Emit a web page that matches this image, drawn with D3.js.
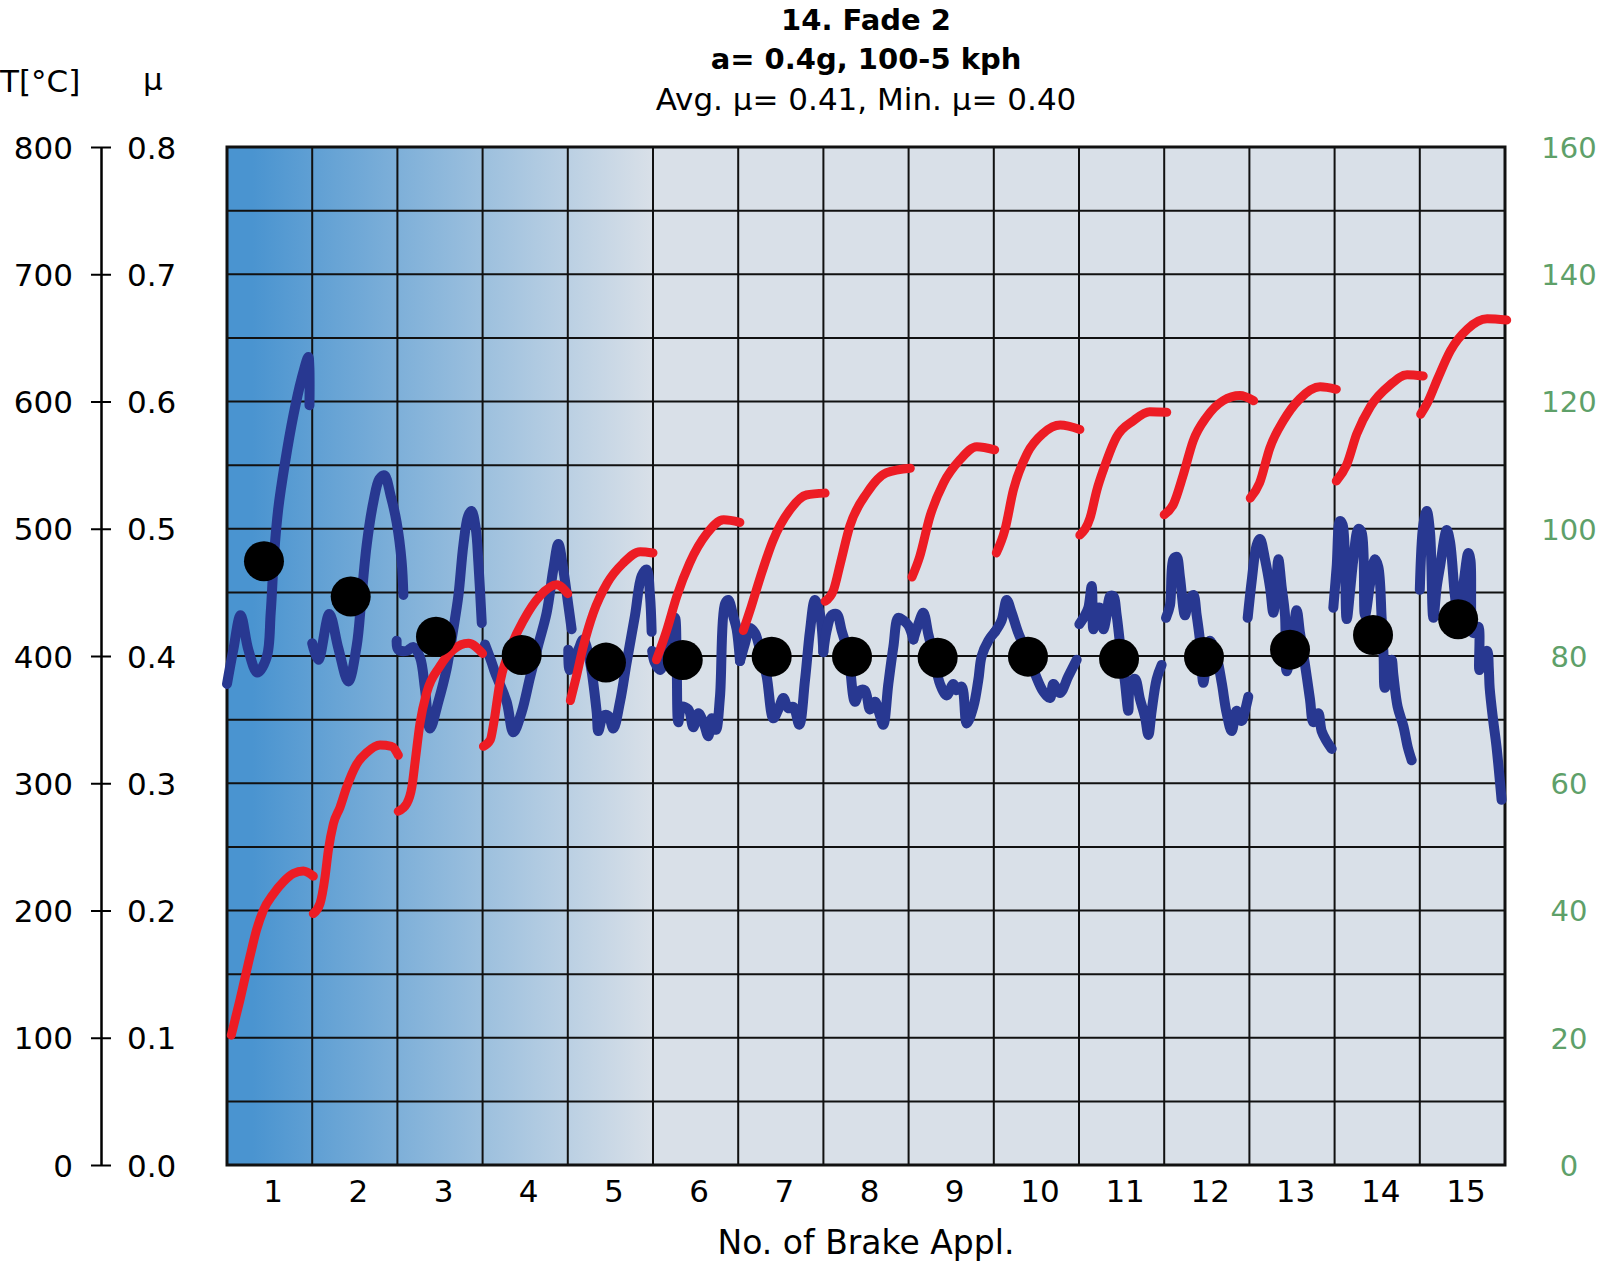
<!DOCTYPE html>
<html><head><meta charset="utf-8">
<script src="https://cdn.jsdelivr.net/npm/d3@7"></script>
<style>
body{margin:0;background:#fff}
svg{display:block}
text{font-family:"DejaVu Sans",sans-serif}
</style>
</head><body>
<svg id="chart" width="1600" height="1265"></svg>
<script>
// ---------- data ----------
const titleLines = ["14. Fade 2", "a= 0.4g, 100-5 kph", "Avg. \u03bc= 0.41, Min. \u03bc= 0.40"];
const appLabels = ["1","2","3","4","5","6","7","8","9","10","11","12","13","14","15"];
const tempTicks = [0,100,200,300,400,500,600,700,800];
const muTicks = [0,0.1,0.2,0.3,0.4,0.5,0.6,0.7,0.8];
const speedTicks = [0,20,40,60,80,100,120,140,160];

// friction coefficient trace per brake application: [application position, mu]
const muTraces = [
 [[0.0,0.378],[0.074,0.405],[0.16,0.432],[0.25,0.405],[0.356,0.387],[0.466,0.399],[0.513,0.434],[0.552,0.479],[0.602,0.516],[0.681,0.552],[0.779,0.589],[0.876,0.618],[0.955,0.635],[0.966,0.628],[0.968,0.597]],
 [[1.0,0.41],[1.072,0.397],[1.201,0.433],[1.307,0.406],[1.424,0.38],[1.522,0.408],[1.581,0.448],[1.639,0.487],[1.718,0.521],[1.788,0.539],[1.847,0.542],[1.921,0.526],[1.991,0.505],[2.05,0.474],[2.07,0.448]],
 [[1.991,0.412],[2.01,0.405],[2.109,0.404],[2.187,0.407],[2.265,0.399],[2.324,0.374],[2.383,0.343],[2.48,0.364],[2.578,0.39],[2.656,0.421],[2.715,0.447],[2.774,0.487],[2.83,0.51],[2.87,0.514],[2.92,0.5],[2.95,0.474],[2.99,0.426]],
 [[3.028,0.409],[3.106,0.395],[3.146,0.387],[3.282,0.364],[3.361,0.34],[3.459,0.356],[3.556,0.383],[3.654,0.409],[3.752,0.434],[3.83,0.468],[3.889,0.488],[3.947,0.468],[4.006,0.44],[4.045,0.421]],
 [[4.006,0.405],[4.022,0.389],[4.124,0.405],[4.182,0.413],[4.261,0.395],[4.339,0.356],[4.358,0.341],[4.417,0.353],[4.476,0.353],[4.534,0.343],[4.613,0.364],[4.691,0.395],[4.789,0.432],[4.867,0.463],[4.926,0.468],[4.965,0.447],[4.984,0.419]],
 [[4.99,0.404],[5.02,0.395],[5.082,0.389],[5.141,0.398],[5.2,0.413],[5.258,0.43],[5.278,0.395],[5.297,0.348],[5.336,0.36],[5.415,0.358],[5.473,0.344],[5.532,0.355],[5.591,0.348],[5.649,0.337],[5.689,0.351],[5.739,0.342],[5.786,0.368],[5.845,0.441],[5.884,0.444],[5.943,0.431],[5.982,0.421],[6.021,0.396]],
 [[6.021,0.396],[6.08,0.41],[6.138,0.422],[6.197,0.418],[6.256,0.405],[6.334,0.384],[6.412,0.351],[6.471,0.358],[6.53,0.367],[6.588,0.359],[6.647,0.36],[6.717,0.346],[6.784,0.381],[6.843,0.42],[6.901,0.444],[6.96,0.433],[6.999,0.403]],
 [[6.999,0.403],[7.038,0.42],[7.097,0.432],[7.156,0.433],[7.214,0.42],[7.293,0.401],[7.371,0.364],[7.43,0.373],[7.488,0.373],[7.547,0.358],[7.606,0.364],[7.656,0.355],[7.703,0.346],[7.762,0.378],[7.821,0.407],[7.879,0.43],[7.938,0.428],[7.997,0.424],[8.056,0.413]],
 [[8.056,0.413],[8.114,0.425],[8.173,0.434],[8.232,0.417],[8.29,0.401],[8.369,0.378],[8.447,0.369],[8.525,0.378],[8.564,0.373],[8.623,0.376],[8.682,0.347],[8.76,0.36],[8.818,0.381],[8.858,0.4],[8.936,0.412],[9.014,0.419]],
 [[9.014,0.419],[9.092,0.428],[9.151,0.444],[9.21,0.434],[9.288,0.418],[9.386,0.403],[9.484,0.386],[9.581,0.372],[9.66,0.367],[9.699,0.378],[9.777,0.371],[9.875,0.384],[9.973,0.397]],
 [[10.004,0.425],[10.07,0.432],[10.11,0.438],[10.149,0.455],[10.168,0.421],[10.207,0.436],[10.246,0.438],[10.286,0.421],[10.325,0.432],[10.364,0.447],[10.403,0.447],[10.442,0.432],[10.481,0.41],[10.54,0.379],[10.579,0.357],[10.599,0.377],[10.657,0.382],[10.716,0.366],[10.775,0.352],[10.814,0.338],[10.853,0.357],[10.912,0.382],[10.97,0.393]],
 [[11.021,0.43],[11.068,0.44],[11.107,0.476],[11.146,0.478],[11.185,0.462],[11.244,0.432],[11.283,0.443],[11.342,0.448],[11.381,0.432],[11.42,0.412],[11.459,0.379],[11.498,0.399],[11.538,0.412],[11.616,0.399],[11.675,0.379],[11.733,0.355],[11.792,0.341],[11.85,0.357],[11.909,0.349],[11.948,0.357],[11.987,0.368]],
 [[11.98,0.43],[12.027,0.459],[12.085,0.487],[12.124,0.492],[12.183,0.476],[12.242,0.454],[12.281,0.434],[12.32,0.462],[12.34,0.476],[12.379,0.454],[12.418,0.432],[12.437,0.388],[12.496,0.407],[12.555,0.436],[12.594,0.418],[12.653,0.393],[12.711,0.366],[12.75,0.348],[12.809,0.355],[12.848,0.341],[12.907,0.333],[12.966,0.327]],
 [[12.985,0.438],[13.024,0.47],[13.063,0.506],[13.095,0.503],[13.142,0.429],[13.181,0.451],[13.22,0.476],[13.279,0.5],[13.318,0.497],[13.357,0.432],[13.415,0.456],[13.474,0.476],[13.513,0.47],[13.552,0.43],[13.575,0.4],[13.59,0.375],[13.62,0.38],[13.67,0.397],[13.69,0.385],[13.74,0.36],[13.807,0.345],[13.86,0.328],[13.905,0.318]],
 [[14.0,0.452],[14.041,0.503],[14.081,0.514],[14.12,0.497],[14.159,0.43],[14.198,0.454],[14.237,0.47],[14.316,0.499],[14.354,0.49],[14.413,0.447],[14.452,0.43],[14.511,0.456],[14.57,0.481],[14.595,0.475],[14.628,0.418],[14.687,0.423],[14.7,0.389],[14.746,0.401],[14.79,0.404],[14.81,0.39],[14.82,0.375],[14.86,0.35],[14.9,0.329],[14.96,0.287]]
];

// temperature trace per brake application: [application position, T in °C]
const tempTraces = [
 [[0.05,102],[0.153,130],[0.27,164],[0.348,185],[0.426,200],[0.544,213],[0.661,222.5],[0.779,229],[0.896,231],[1.013,227]],
 [[1.013,197.6],[1.092,205.5],[1.15,226],[1.189,247],[1.248,268],[1.326,281],[1.405,297],[1.522,315],[1.639,324],[1.796,330],[1.93,329],[2.011,322]],
 [[2.01,278],[2.11,284],[2.17,297],[2.21,318],[2.265,347],[2.343,371],[2.5,392],[2.657,405],[2.833,410],[3.0,402]],
 [[3.01,329],[3.09,334],[3.13,347],[3.2,378],[3.32,405],[3.48,428],[3.67,447],[3.87,456],[4.0,449]],
 [[4.03,365],[4.09,381],[4.18,407],[4.3,434],[4.46,457],[4.65,473],[4.85,482],[5.0,481]],
 [[5.04,397],[5.16,420],[5.28,447],[5.43,473],[5.63,496],[5.83,507],[6.02,505]],
 [[6.06,420],[6.14,436],[6.26,462],[6.41,491],[6.61,515],[6.8,526.5],[7.02,528]],
 [[7.02,443],[7.12,452],[7.2,473],[7.31,502],[7.51,528],[7.74,544],[8.02,547.5]],
 [[8.04,462],[8.13,478],[8.25,509.5],[8.41,536],[8.6,554],[8.8,564.5],[9.01,562]],
 [[9.03,481],[9.13,499],[9.23,530.5],[9.39,559],[9.58,575],[9.78,581.5],[10.01,578]],
 [[10.01,495],[10.13,508.5],[10.21,530.5],[10.29,547],[10.44,572],[10.64,585],[10.83,592],[11.03,591.5]],
 [[11.0,511],[11.11,519.5],[11.22,541.5],[11.34,569],[11.5,588],[11.69,600.6],[11.89,604.7],[12.05,600.6]],
 [[12.01,524],[12.12,536],[12.24,563.5],[12.4,585],[12.59,602],[12.83,611.5],[13.02,609.6]],
 [[13.02,537.5],[13.14,550],[13.26,574.5],[13.42,596],[13.65,613],[13.85,621],[14.04,620]],
 [[14.01,590],[14.09,599],[14.21,618],[14.36,640],[14.56,657],[14.79,665],[15.02,664]]
];

// average mu per application and where it is marked
const avgMuX = [0.434,1.452,2.453,3.459,4.448,5.349,6.393,7.336,8.341,9.401,10.47,11.467,12.477,13.451,14.45];
const avgMu  = [0.4745,0.4467,0.4152,0.4008,0.3948,0.3969,0.3995,0.3995,0.3987,0.3995,0.3978,0.3992,0.405,0.4165,0.4289];

// ---------- layout ----------
const L = 227, R = 1505, T = 147, B = 1165;
const svg = d3.select("#chart");

const x = d3.scaleLinear().domain([0, 15]).range([L, R]);
const yMu = d3.scaleLinear().domain([0, 0.8]).range([B, T]);
const yT = d3.scaleLinear().domain([0, 800]).range([B, T]);
const ySp = d3.scaleLinear().domain([0, 160]).range([B, T]);

// background gradient
const defs = svg.append("defs");
const grad = defs.append("linearGradient").attr("id","bg")
  .attr("gradientUnits","userSpaceOnUse")
  .attr("x1", x(0.3)).attr("x2", x(5)).attr("y1",0).attr("y2",0);
grad.append("stop").attr("offset","0%").attr("stop-color","#4a94d0");
grad.append("stop").attr("offset","100%").attr("stop-color","#d9e0e8");

svg.append("rect").attr("x",L).attr("y",T).attr("width",R-L).attr("height",B-T)
  .attr("fill","url(#bg)");

// grid
const grid = svg.append("g").attr("stroke","#111").attr("stroke-width",2);
grid.selectAll("line.h").data(d3.range(0,17).map(i=>i*0.05)).join("line")
  .attr("x1",L).attr("x2",R).attr("y1",d=>yMu(d)).attr("y2",d=>yMu(d));
grid.selectAll("line.v").data(d3.range(0,16)).join("line")
  .attr("y1",T).attr("y2",B).attr("x1",d=>x(d)).attr("x2",d=>x(d));
svg.append("rect").attr("x",L).attr("y",T).attr("width",R-L).attr("height",B-T)
  .attr("fill","none").attr("stroke","#111").attr("stroke-width",3);

// lines
const muLine = d3.line().x(d=>x(d[0])).y(d=>yMu(d[1])).curve(d3.curveCatmullRom.alpha(0.5));
const tLine = d3.line().x(d=>x(d[0])).y(d=>yT(d[1])).curve(d3.curveMonotoneX);

svg.append("g").selectAll("path").data(muTraces).join("path")
  .attr("d", muLine).attr("fill","none").attr("stroke","#283891")
  .attr("stroke-width",10).attr("stroke-linecap","round").attr("stroke-linejoin","round");

svg.append("g").selectAll("path").data(tempTraces).join("path")
  .attr("d", tLine).attr("fill","none").attr("stroke","#ed1c24")
  .attr("stroke-width",9).attr("stroke-linecap","round").attr("stroke-linejoin","round");

svg.append("g").selectAll("circle").data(avgMu).join("circle")
  .attr("cx",(d,i)=>x(avgMuX[i])).attr("cy",d=>yMu(d)).attr("r",20).attr("fill","#000");

// left axes (temperature labels on the left, mu labels on the right of the line)
const axT = svg.append("g").attr("transform","translate(101,0)")
  .call(d3.axisLeft(yT).tickValues(tempTicks).tickSize(10).tickSizeOuter(0).tickPadding(18));
const axM = svg.append("g").attr("transform","translate(101,0)")
  .call(d3.axisRight(yMu).tickValues(muTicks).tickSize(10).tickSizeOuter(0).tickPadding(16)
        .tickFormat(d3.format(".1f")));
[axT, axM].forEach(g=>{
  g.attr("font-family",null).attr("font-size",null);
  g.selectAll("path.domain").attr("stroke","#000").attr("stroke-width",2);
  g.selectAll(".tick line").attr("stroke","#000").attr("stroke-width",2);
  g.selectAll(".tick text").attr("fill","#000").style("font-size","31px")
    .attr("dy","0.36em");
});

// right axis (speed)
const axS = svg.append("g").attr("transform","translate(1569,0)")
  .call(d3.axisRight(ySp).tickValues(speedTicks).tickSize(0).tickPadding(0));
axS.attr("font-family",null).attr("font-size",null);
axS.select("path.domain").remove();
axS.selectAll(".tick text").attr("fill","#5ea069").attr("text-anchor","middle")
  .style("font-size","29px").attr("dy","0.36em");

// bottom axis
const axX = svg.append("g").attr("transform",`translate(0,${B})`)
  .call(d3.axisBottom(x).tickValues(d3.range(15).map(i=>i+0.5))
        .tickFormat((d,i)=>appLabels[i]).tickSize(0).tickPadding(15));
axX.attr("font-family",null).attr("font-size",null);
axX.select("path.domain").remove();
axX.selectAll(".tick text").attr("fill","#000").style("font-size","31px").attr("dx",3);

// titles
const cx = (L+R)/2;
svg.append("text").attr("x",cx).attr("y",30).attr("text-anchor","middle")
  .attr("font-weight","bold").style("font-size","29px").text(titleLines[0]);
svg.append("text").attr("x",cx).attr("y",69).attr("text-anchor","middle")
  .attr("font-weight","bold").style("font-size","29px").text(titleLines[1]);
svg.append("text").attr("x",cx).attr("y",110).attr("text-anchor","middle")
  .style("font-size","31px").text(titleLines[2]);

svg.append("text").attr("x",0).attr("y",92).style("font-size","31px").text("T[\u00b0C]");
svg.append("text").attr("x",143).attr("y",90).style("font-size","31px").text("\u03bc");

svg.append("text").attr("x",cx).attr("y",1254).attr("text-anchor","middle")
  .style("font-size","33px").text("No. of Brake Appl.");
</script>
</body></html>
